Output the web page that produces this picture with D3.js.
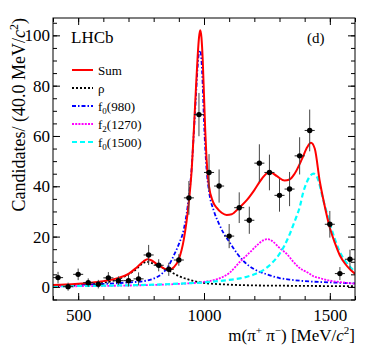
<!DOCTYPE html>
<html>
<head>
<meta charset="utf-8">
<script src="https://cdn.jsdelivr.net/npm/d3@7"></script>
<style>
  html, body { margin: 0; padding: 0; background: #fff; }
  svg { display: block; }
  text { font-family: "Liberation Serif", "Times New Roman", serif; fill: #000; }
</style>
</head>
<body>
<svg id="chart" width="374" height="359"></svg>
<script>
// ---------------- data ----------------
const binCenters = [420,460,500,540,580,620,660,700,740,780,820,860,900,940,980,1020,1060,1100,1140,1180,1220,1260,1300,1340,1380,1420,1500,1540,1580];
const counts     = [3.7,0.1,5.0,1.7,1.1,3.6,2.5,2.5,3.2,12.7,8.6,7.0,10.7,35.4,68.5,45.5,40.1,20.2,31.5,26.5,49.2,45.5,36.4,38.9,52.1,62.2,24.9,5.3,11.0];
const errors     = [2.3,1.6,2.3,1.7,1.7,2.3,1.7,2.3,2.6,4.0,2.4,2.6,2.3,6.7,8.6,7.3,6.6,4.8,6.1,5.4,7.5,7.1,6.5,6.8,7.4,8.3,5.3,2.6,3.8];
const binHalfWidth = 20;

const sumMass = [400,450,500,550,600,650,700,730,760,775,790,810,830,850,865,880,900,920,940,950,960,968,975,980,985,990,995,1000,1005,1010,1020,1035,1050,1070,1090,1110,1140,1170,1200,1230,1260,1290,1320,1340,1360,1390,1410,1425,1440,1460,1480,1500,1520,1540,1560,1580,1600];
const sumVals = [0.8,1.0,1.3,1.7,2.3,3.3,5.2,7.5,10.2,11.0,10.6,9.3,8.0,7.0,6.9,7.8,11,19,34,45,63,79,92,99,102,99,90,76,62,51,40,34,31.5,29.5,28.6,28.9,31.5,34.5,38.5,43,45.8,44,42.3,42.7,45,51,55.5,57.3,55,42,32,23.5,17.5,12.5,9.3,7,5.2];

const rhoMass = [400,500,590,650,700,730,755,772,790,825,858,880,905,940,970,1000,1100,1200,1300,1400,1600];
const rhoVals = [0.3,0.6,1.5,2.8,5.0,7.0,9.2,10.0,9.6,8.0,6.7,5.3,4.1,2.9,2.1,1.6,0.9,0.6,0.5,0.4,0.3];

const f0980Mass = [400,500,600,700,760,800,830,860,880,900,920,940,950,960,968,975,980,985,990,995,1000,1005,1010,1020,1040,1060,1080,1100,1130,1160,1200,1250,1300,1350,1400,1500,1600];
const f0980Vals = [0.7,0.9,1.2,1.8,2.3,3.3,5.0,8.5,12.5,17,23,36,46,62,76,88,93,94,90,80,66,55,47,38,30,25,21,18,13.5,10,7,5,3.5,2.8,2.3,1.8,1.4];

const f21270Mass = [400,600,800,900,1000,1050,1100,1143,1180,1210,1235,1252,1270,1300,1330,1355,1380,1410,1434,1460,1500,1550,1600];
const f21270Vals = [0.2,0.4,0.8,1.2,2.0,3.0,5.5,10,13.5,16.5,18.5,19,18.3,15.5,13,10,7.5,5.8,4.3,3.5,2.5,1.8,1.3];

const f01500Mass = [400,600,800,900,1000,1100,1143,1200,1236,1270,1302,1320,1342,1360,1381,1394,1410,1425,1435,1450,1474,1500,1520,1540,1560,1580,1600];
const f01500Vals = [0.3,0.5,0.9,1.3,1.8,2.8,3.4,5,6.7,9.5,13.4,16.5,21.3,26,32,37.5,42,44.5,45,43.5,34.5,25.3,19,13.8,10.5,8,6.1];

const xTickValues = [500,1000,1500];
const xTickLabels = ["500","1000","1500"];
const yTickValues = [0,20,40,60,80,100];
const yTickLabels = ["0","20","40","60","80","100"];

// ---------------- layout ----------------
const svg = d3.select("#chart");
const L = 53, R = 355, T = 18, B = 300;
const x = d3.scaleLinear().domain([400,1600]).range([L,R]);
const y = d3.scaleLinear().domain([-5.2,106.9]).range([B,T]);

svg.append("defs").append("clipPath").attr("id","clip")
  .append("rect").attr("x",L).attr("y",T).attr("width",R-L).attr("height",B-T);

// curves
const components = [
  {m: rhoMass,   v: rhoVals,   color: "#000000", dash: "2,2",      w: 1.8},
  {m: f0980Mass, v: f0980Vals, color: "#0000ff", dash: "4,2,1.5,2",w: 1.8},
  {m: f21270Mass,v: f21270Vals,color: "#ff00ff", dash: "2,1.2",    w: 1.8},
  {m: f01500Mass,v: f01500Vals,color: "#00ffff", dash: "5,3",      w: 2.2},
  {m: sumMass,   v: sumVals,   color: "#ff0000", dash: null,       w: 2.0}
];
const curveG = svg.append("g").attr("clip-path","url(#clip)");
components.forEach(c => {
  const pts = c.m.map((mm,i)=>[mm,c.v[i]]);
  const line = d3.line().x(d=>x(d[0])).y(d=>y(d[1])).curve(d3.curveMonotoneX);
  curveG.append("path").attr("d", line(pts)).attr("fill","none")
    .attr("stroke", c.color).attr("stroke-width", c.w)
    .attr("stroke-dasharray", c.dash);
});

// data points
const ptG = svg.append("g").attr("clip-path","url(#clip)");
binCenters.forEach((m,i) => {
  const v = counts[i], e = errors[i];
  ptG.append("line").attr("x1",x(m)).attr("x2",x(m))
    .attr("y1",y(v-e)).attr("y2",y(v+e)).attr("stroke","#444").attr("stroke-width",1);
  ptG.append("line").attr("x1",x(m-binHalfWidth)).attr("x2",x(m+binHalfWidth))
    .attr("y1",y(v)).attr("y2",y(v)).attr("stroke","#222").attr("stroke-width",1);
  ptG.append("circle").attr("cx",x(m)).attr("cy",y(v)).attr("r",2.7).attr("fill","#000");
});

// frame and axes
svg.append("rect").attr("x",L).attr("y",T).attr("width",R-L).attr("height",B-T)
  .attr("fill","none").attr("stroke","#000").attr("stroke-width",1);

const xMinor = d3.range(400,1601,100);
const yMinor = d3.range(-5,107,5);
function axisG(gen, tr){
  const g = svg.append("g").attr("transform",tr).call(gen);
  g.select(".domain").remove();
  g.selectAll("line").attr("stroke","#000");
  return g;
}
// bottom
const xb = axisG(d3.axisBottom(x).tickValues(xTickValues).tickSize(-7).tickPadding(9)
   .tickFormat((d,i)=>xTickLabels[i]), `translate(0,${B})`);
xb.selectAll("text").attr("font-size",17).attr("font-family","Liberation Serif, serif");
axisG(d3.axisBottom(x).tickValues(xMinor).tickSize(-4).tickFormat(""), `translate(0,${B})`);
// top
axisG(d3.axisTop(x).tickValues(xTickValues).tickSize(-7).tickFormat(""), `translate(0,${T})`);
axisG(d3.axisTop(x).tickValues(xMinor).tickSize(-4).tickFormat(""), `translate(0,${T})`);
// left
const yl = axisG(d3.axisLeft(y).tickValues(yTickValues).tickSize(-7).tickPadding(3)
   .tickFormat((d,i)=>yTickLabels[i]), `translate(${L},0)`);
yl.selectAll("text").attr("font-size",17).attr("font-family","Liberation Serif, serif");
axisG(d3.axisLeft(y).tickValues(yMinor).tickSize(-4).tickFormat(""), `translate(${L},0)`);
// right
axisG(d3.axisRight(y).tickValues(yTickValues).tickSize(-7).tickFormat(""), `translate(${R},0)`);
axisG(d3.axisRight(y).tickValues(yMinor).tickSize(-4).tickFormat(""), `translate(${R},0)`);

// axis titles
const xt = svg.append("text").attr("x",R).attr("y",341).attr("text-anchor","end").attr("font-size",17);
xt.append("tspan").text("m(π");
xt.append("tspan").attr("font-size",11).attr("dy",-7).text("+");
xt.append("tspan").attr("dy",7).text(" π");
xt.append("tspan").attr("font-size",11).attr("dy",-7).text("−");
xt.append("tspan").attr("dy",7).text(") [MeV/");
xt.append("tspan").attr("font-style","italic").text("c");
xt.append("tspan").attr("font-size",11).attr("dy",-7).text("2");
xt.append("tspan").attr("dy",7).text("]");

const yt = svg.append("text").attr("transform",`translate(19,${T}) rotate(-90)`)
  .attr("text-anchor","end").attr("font-size",18).attr("dy","0.35em");
yt.append("tspan").text("Candidates/ (40.0 MeV/");
yt.append("tspan").attr("font-style","italic").text("c");
yt.append("tspan").attr("font-size",12).attr("dy",-7).text("2");
yt.append("tspan").attr("dy",7).text(")");

// labels
svg.append("text").attr("x",71).attr("y",43).attr("font-size",17).text("LHCb");
svg.append("text").attr("x",307).attr("y",43).attr("font-size",15).text("(d)");

// legend
const legendNames = ["Sum","ρ","f|0|(980)","f|2|(1270)","f|0|(1500)"];
const legendOrder = [4,0,1,2,3];
legendNames.forEach((name,i) => {
  const c = components[legendOrder[i]];
  const ly = 70 + i*18;
  svg.append("line").attr("x1",72).attr("x2",93).attr("y1",ly).attr("y2",ly)
    .attr("stroke",c.color).attr("stroke-width",c.w).attr("stroke-dasharray",c.dash);
  const t = svg.append("text").attr("x",98).attr("y",ly+4.5).attr("font-size",13);
  const parts = name.split("|");
  if (parts.length === 1) t.text(name);
  else {
    t.append("tspan").text(parts[0]);
    t.append("tspan").attr("font-size",9).attr("dy",3).text(parts[1]);
    t.append("tspan").attr("dy",-3).text(parts[2]);
  }
});
</script>
</body>
</html>
